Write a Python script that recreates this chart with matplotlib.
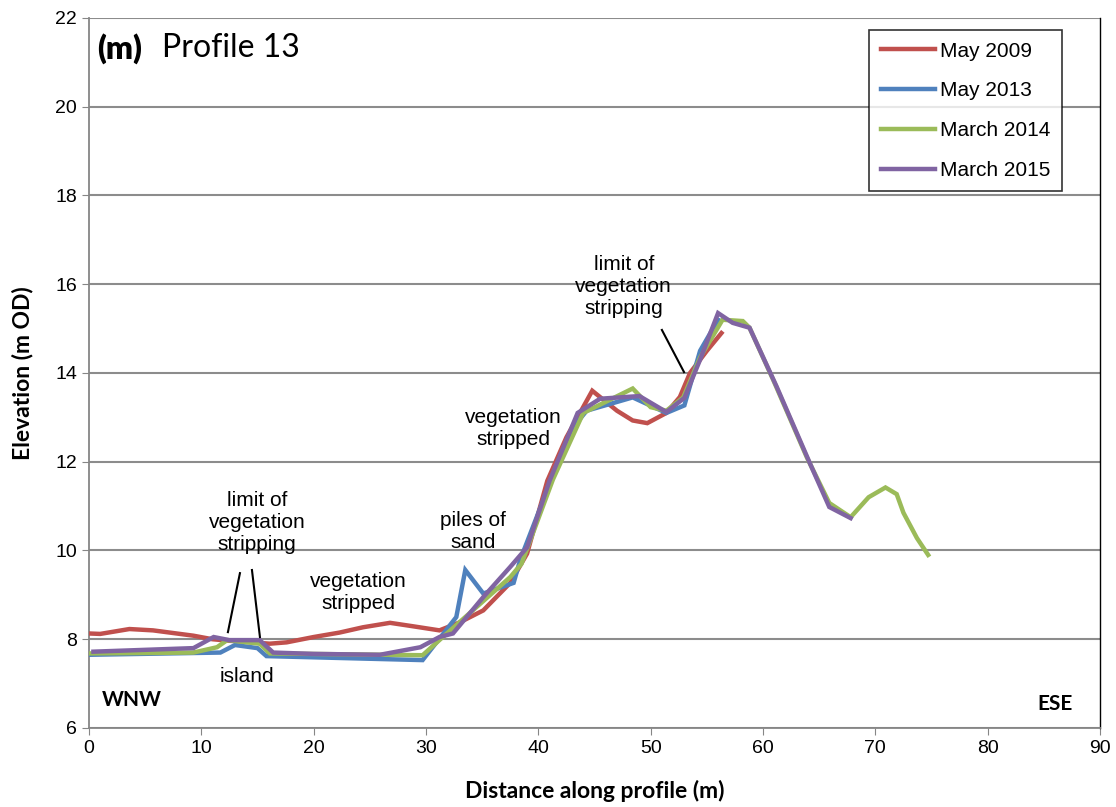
import matplotlib.pyplot as plt

# profile data (distance m, elevation m OD)
may2009_x = [0, 1, 3.6, 5.7, 9.3, 11, 12.3, 16.1, 17.6, 20, 22.3, 24.4, 26.8, 28.9, 31.2,
             33, 35.1, 37.5, 39, 40.8, 42.5, 44.8, 47, 48.4, 49.7, 51.4, 52.6, 53.5, 55, 56.3]
may2009_y = [8.13, 8.12, 8.23, 8.2, 8.08, 8.0, 7.97, 7.9, 7.93, 8.05, 8.15, 8.27, 8.37, 8.29, 8.2,
             8.38, 8.65, 9.27, 9.93, 11.57, 12.55, 13.6, 13.15, 12.93, 12.87, 13.1, 13.46, 14.0, 14.5, 14.9]

may2013_x = [0, 11.7, 13, 15, 15.8, 29.7, 32.7, 33.5, 35.1, 37.8, 38.4, 41, 43.5, 44.3,
             48.4, 51.4, 53, 54.4, 56]
may2013_y = [7.65, 7.7, 7.87, 7.8, 7.62, 7.53, 8.5, 9.56, 9.03, 9.27, 9.8, 11.5, 12.9, 13.15,
             13.45, 13.1, 13.27, 14.5, 15.2]

mar2014_x = [0, 9.3, 11.4, 12.3, 15.2, 16.1, 29.7, 31.5, 37.5, 38.5, 41.3, 44, 48.4, 50, 51.4,
             52.9, 54.4, 56.4, 58.2, 58.8, 60.9, 63.9, 65.9, 67.8, 69.4, 70.9, 71.9, 72.5, 73.7, 74.7]
mar2014_y = [7.68, 7.7, 7.82, 7.98, 7.9, 7.68, 7.64, 8.05, 9.4, 9.7, 11.6, 13.1, 13.65, 13.23, 13.15,
             13.45, 14.35, 15.2, 15.17, 15.02, 13.85, 12.1, 11.07, 10.75, 11.2, 11.42, 11.27, 10.85, 10.28, 9.9]

mar2015_x = [0.4, 9.3, 11.1, 12.5, 15.2, 16.4, 20, 25.9, 29.5, 31.2, 32.4, 35.1, 37.5, 39, 41,
             43.5, 45.5, 49, 51.4, 53, 54.4, 56, 57.3, 58.8, 61.2, 64.2, 65.9, 67.8]
mar2015_y = [7.72, 7.8, 8.05, 7.98, 7.98, 7.7, 7.67, 7.65, 7.82, 8.05, 8.13, 8.95, 9.63, 10.07, 11.57,
             13.1, 13.42, 13.48, 13.12, 13.44, 14.3, 15.35, 15.13, 15.02, 13.7, 11.95, 10.98, 10.73]

series = [
    ('May 2009', may2009_x, may2009_y, '#C0504D'),
    ('May 2013', may2013_x, may2013_y, '#4F81BD'),
    ('March 2014', mar2014_x, mar2014_y, '#9BBB59'),
    ('March 2015', mar2015_x, mar2015_y, '#8064A2'),
]

plt.rcParams['font.family'] = ['Liberation Sans', 'DejaVu Sans']

fig = plt.figure(figsize=(11.16, 8.07), dpi=100)
ax = fig.add_axes([0.0797, 0.0979, 0.9060, 0.8798])

for label, xs, ys, color in series:
    ax.plot(xs, ys, color=color, lw=3.2, label=label, solid_joinstyle='miter', zorder=3)

ax.set_xlim(0, 90)
ax.set_ylim(6, 22)
ax.set_xticks(range(0, 91, 10))
ax.set_yticks(range(6, 23, 2))
ax.tick_params(labelsize=14, direction='out', length=5, color='#868686')
ax.yaxis.grid(True, color='#8c8c8c', lw=1.5)
ax.set_axisbelow(True)
for s in ['left', 'bottom']:
    ax.spines[s].set_color('#868686')
    ax.spines[s].set_linewidth(1.3)
ax.spines['top'].set_visible(False)
ax.spines['right'].set_color('black')
ax.spines['right'].set_linewidth(1.0)

ax.set_xlabel('Distance along profile (m)', fontsize=16.5, fontweight='bold', family='Lato', labelpad=17)
ax.set_ylabel('Elevation (m OD)', fontsize=16.5, fontweight='bold', family='Lato', labelpad=16)

ax.text(0.7, 21.32, '(m)', fontsize=23, fontweight='heavy', family='Lato', va='center')
ax.text(6.5, 21.32, 'Profile 13', fontsize=23, family='Lato', va='center')

ann = dict(fontsize=15, ha='center', va='center', linespacing=1.2)
ax.text(14.96, 10.64, 'limit of\nvegetation\nstripping', **ann)
ax.text(14.07, 7.17, 'island', **ann)
ax.text(23.95, 9.06, 'vegetation\nstripped', **ann)
ax.text(34.2, 10.42, 'piles of\nsand', **ann)
ax.text(37.75, 12.74, 'vegetation\nstripped', **ann)
ax.text(47.6, 15.94, 'limit of\nvegetation\nstripping', **ann)
ax.text(3.85, 6.63, 'WNW', fontsize=15, fontweight='bold', family='Lato', ha='center', va='center')
ax.text(86, 6.54, 'ESE', fontsize=15, fontweight='bold', family='Lato', ha='center', va='center')

# pointer lines
ax.plot([13.44, 12.37], [9.49, 8.16], color='black', lw=1.5, zorder=4)
ax.plot([14.51, 15.22], [9.56, 8.05], color='black', lw=1.5, zorder=4)
ax.plot([51.0, 52.97], [14.97, 14.02], color='black', lw=1.5, zorder=4)

leg = ax.legend(loc='upper right', bbox_to_anchor=(0.9624, 0.983), fontsize=15,
                frameon=True, fancybox=False, edgecolor='black', handlelength=2.6,
                handletextpad=0.25, labelspacing=1.0, borderpad=0.55, borderaxespad=0)
leg.get_frame().set_linewidth(1.2)

fig.savefig('out.png', dpi=100, facecolor='white')
